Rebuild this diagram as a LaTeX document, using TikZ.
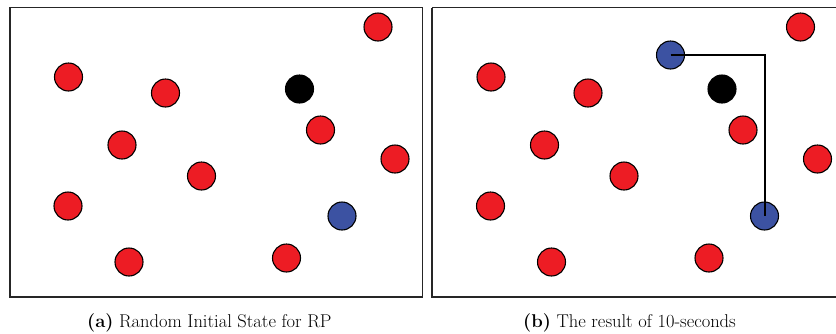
\documentclass[tikz,border=0pt]{standalone}
\usepackage{xcolor}
\definecolor{pred}{RGB}{237,28,36}
\definecolor{pblue}{RGB}{60,82,162}
\tikzset{
  ball/.style={circle, draw=black, line width=1.1pt, minimum size=28pt, inner sep=0pt},
  redball/.style={ball, fill=pred},
  blueball/.style={ball, fill=pblue},
  blackball/.style={ball, fill=black},
  panelframe/.style={draw=black!85, line width=1.3pt},
  linkline/.style={draw=black, line width=2pt},
  captext/.style={anchor=base west, inner sep=0pt, font=\fontsize{18.5}{22}\selectfont}
}
\begin{document}
\begin{tikzpicture}[x=1pt,y=-1pt]
\useasboundingbox (0,0) rectangle (836,333);
\clip (0,0) rectangle (836,333);
\fill[white] (0,0) rectangle (836,333);
% panel (a)
\draw[panelframe] (10,7.5) rectangle (422.5,297);
\node[redball] (a1) at (378,27) {};
\node[redball] (a2) at (68.5,77) {};
\node[redball] (a3) at (165.5,93) {};
\node[blackball] (a4) at (299.5,89) {};
\node[redball] (a5) at (320.5,130) {};
\node[redball] (a6) at (122,145) {};
\node[redball] (a7) at (395,159) {};
\node[redball] (a8) at (201.5,176) {};
\node[redball] (a9) at (68,206) {};
\node[blueball] (a10) at (342,216) {};
\node[redball] (a11) at (129,262) {};
\node[redball] (a12) at (286.5,258) {};
\node[captext] (capa) at (87,327.5) {\textbf{(a)} Random Initial State for RP};
% panel (b)
\draw[panelframe] (432,7.5) -- (432,297) -- (850,297);
\draw[panelframe] (432,7.5) -- (850,7.5);
\begin{scope}[xshift=422.5pt]
\node[redball] (b1) at (378,27) {};
\node[redball] (b2) at (68.5,77) {};
\node[redball] (b3) at (165.5,93) {};
\node[blackball] (b4) at (299.5,89) {};
\node[redball] (b5) at (320.5,130) {};
\node[redball] (b6) at (122,145) {};
\node[redball] (b7) at (395,159) {};
\node[redball] (b8) at (201.5,176) {};
\node[redball] (b9) at (68,206) {};
\node[blueball] (b10) at (342,216) {};
\node[redball] (b11) at (129,262) {};
\node[redball] (b12) at (286.5,258) {};
\node[blueball] (b13) at (248,55) {};
\end{scope}
\draw[linkline] (b13.center) -| (b10.center);
\node[captext] (capb) at (523,327.5) {\textbf{(b)} The result of 10-seconds};
\end{tikzpicture}
\end{document}
